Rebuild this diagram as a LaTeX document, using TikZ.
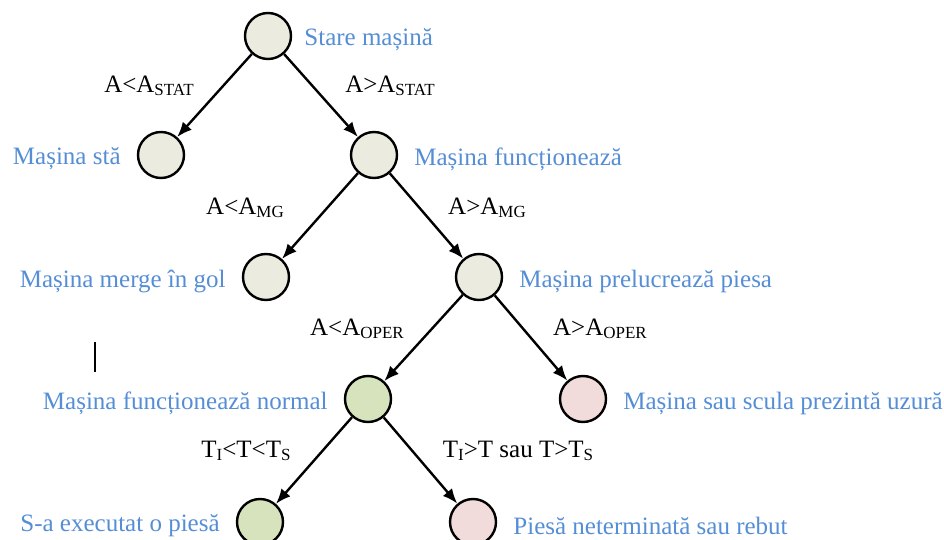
\documentclass[tikz,border=0pt]{standalone}
\usepackage{fontspec}
\setmainfont{Liberation Serif}
\usetikzlibrary{positioning, arrows.meta}
\definecolor{albastru}{HTML}{558ED5}
\definecolor{bej}{HTML}{ECEBE0}
\definecolor{verde}{HTML}{D7E3BC}
\definecolor{roz}{HTML}{F2DCDB}
\newcommand{\jos}[1]{\raisebox{-0.25ex}{\fontsize{17}{17}\selectfont #1}}
\tikzset{
  stare/.style={circle, draw, line width=2.4pt, minimum size=46pt, inner sep=0pt, fill=bej},
  nume/.style={text=albastru, inner sep=0pt, yshift=-4pt},
  sageata/.style={line width=2.4pt, -{Latex[length=15pt, width=12pt]}},
}

\begin{document}
\begin{tikzpicture}[x=1pt, y=-1pt, font=\fontsize{25}{30}\selectfont, node distance=16pt]
	\useasboundingbox (0,0) rectangle (944,540);
	% starile
	\node[stare] (s0) at (268, 36) {};
	\node[stare] (sta) at (161, 155) {};
	\node[stare] (func) at (374, 155) {};
	\node[stare] (gol) at (266, 277) {};
	\node[stare] (prel) at (479, 277) {};
	\node[stare, fill=verde] (normal) at (368, 399) {};
	\node[stare, fill=roz] (uzura) at (583, 399) {};
	\node[stare, fill=verde] (piesa) at (260, 522) {};
	\node[stare, fill=roz] (rebut) at (473, 522) {};
	% denumiri
	\node[nume, right=12pt of s0] {Stare mașină};
	\node[nume, left=of sta] {Mașina stă};
	\node[nume, right=of func] {Mașina funcționează};
	\node[nume, left=of gol] {Mașina merge în gol};
	\node[nume, right=of prel] {Mașina prelucrează piesa};
	\node[nume, left=of normal] {Mașina funcționează normal};
	\node[nume, right=of uzura] {Mașina sau scula prezintă uzură};
	\node[nume, left=of piesa] {S-a executat o piesă};
	\node[nume, right=of rebut] {Piesă neterminată sau rebut};
	% tranzitii
	\draw[sageata] (s0) -- (sta);
	\draw[sageata] (s0) -- (func);
	\draw[sageata] (func) -- (gol);
	\draw[sageata] (func) -- (prel);
	\draw[sageata] (prel) -- (normal);
	\draw[sageata] (prel) -- (uzura);
	\draw[sageata] (normal) -- (piesa);
	\draw[sageata] (normal) -- (rebut);
	% conditii
	\node (c1) at (149, 86) {A<A\jos{STAT}};
	\node (c2) at (390, 86) {A>A\jos{STAT}};
	\node (c3) at (245, 208) {A<A\jos{MG}};
	\node (c4) at (487, 208) {A>A\jos{MG}};
	\node (c5) at (357, 329) {A<A\jos{OPER}};
	\node (c6) at (600, 329) {A>A\jos{OPER}};
	\node (c7) at (246, 451) {T\jos{I}<T<T\jos{S}};
	\node (c8) at (518, 451) {T\jos{I}>T sau T>T\jos{S}};
	\coordinate (cur1) at (95, 342);
	\coordinate (cur2) at (95, 372);
	\draw[line width=1.6pt] (cur1) -- (cur2);
\end{tikzpicture}
\end{document}
